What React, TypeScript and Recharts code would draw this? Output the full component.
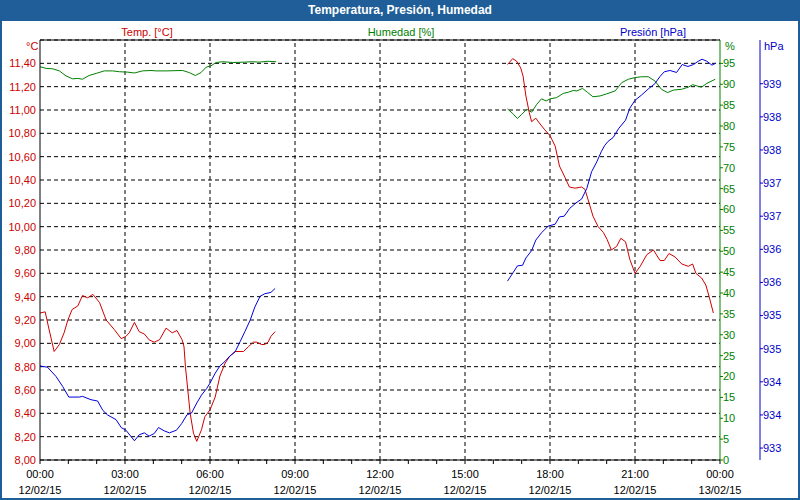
import React from 'react';
import { LineChart, Line, XAxis, YAxis, CartesianGrid, ReferenceLine } from 'recharts';

// minutes since 12/02/15 00:00, value (null = no data)
const temperature: [number, number | null][] = [
  [0, 9.26], [11, 9.27], [18, 9.14], [30, 8.93], [41, 8.99], [51, 9.09], [59, 9.2], [68, 9.29],
  [80, 9.32], [90, 9.41], [101, 9.39], [112, 9.42], [126, 9.35], [140, 9.2], [157, 9.12], [172, 9.04],
  [182, 9.06], [189, 9.09], [200, 9.18], [210, 9.1], [221, 9.08], [231, 9.03], [242, 9.01], [253, 9.03],
  [267, 9.13], [280, 9.09], [290, 9.11], [301, 9.03], [305, 8.97], [308, 8.8], [313, 8.6], [318, 8.4],
  [325, 8.23], [332, 8.16], [342, 8.26], [349, 8.37], [360, 8.43], [371, 8.54], [381, 8.72], [392, 8.83],
  [402, 8.89], [413, 8.93], [431, 8.93], [441, 8.97], [452, 9.01], [459, 9.01], [469, 8.99], [476, 8.99],
  [483, 9.01], [489, 9.06], [498, 9.1],
  [700, null],
  [990, 11.39], [1001, 11.44], [1009, 11.42], [1018, 11.36], [1023, 11.29], [1029, 11.12], [1036, 10.98],
  [1041, 10.9], [1050, 10.93], [1059, 10.88], [1069, 10.83], [1080, 10.78], [1091, 10.69], [1100, 10.52],
  [1112, 10.42], [1121, 10.34], [1133, 10.33], [1147, 10.34], [1154, 10.32], [1163, 10.2], [1171, 10.09],
  [1182, 10.0], [1193, 9.95], [1201, 9.89], [1210, 9.8], [1221, 9.83], [1230, 9.9], [1240, 9.87],
  [1249, 9.72], [1260, 9.6], [1271, 9.66], [1285, 9.76], [1299, 9.8], [1313, 9.71], [1322, 9.71],
  [1332, 9.77], [1345, 9.74], [1359, 9.68], [1373, 9.66], [1382, 9.68], [1389, 9.6], [1401, 9.56],
  [1410, 9.5], [1417, 9.4], [1426, 9.26],
];

const humidity: [number, number | null][] = [
  [0, 94.2], [13, 93.8], [27, 93.7], [41, 93.2], [55, 92.0], [69, 91.3], [80, 91.4], [90, 91.2],
  [104, 92.1], [119, 92.6], [136, 93.2], [154, 93.2], [168, 93.0], [186, 92.9], [200, 92.7], [217, 93.2],
  [235, 93.3], [246, 93.2], [267, 93.2], [302, 93.3], [316, 92.8], [329, 92.1], [341, 92.8], [352, 94.1],
  [362, 94.4], [373, 95.2], [387, 95.4], [408, 95.2], [433, 95.3], [450, 95.4], [464, 95.3], [482, 95.5],
  [500, 95.4],
  [700, null],
  [990, 84.1], [1001, 83.0], [1011, 81.8], [1020, 82.8], [1031, 84.0], [1041, 83.3], [1052, 85.2],
  [1062, 86.5], [1072, 86.0], [1080, 86.5], [1094, 86.8], [1108, 87.8], [1119, 88.1], [1129, 88.5],
  [1137, 88.4], [1149, 89.0], [1159, 88.1], [1171, 87.0], [1186, 87.2], [1200, 87.7], [1218, 88.4],
  [1232, 90.4], [1246, 91.2], [1260, 91.6], [1274, 91.8], [1288, 91.8], [1302, 90.8], [1316, 88.8],
  [1329, 88.0], [1341, 88.6], [1359, 88.8], [1373, 89.3], [1382, 89.9], [1391, 89.6], [1401, 89.3],
  [1412, 90.2], [1430, 91.2],
];

const pressure: [number, number | null][] = [
  [0, 934.24], [16, 934.22], [34, 934.08], [48, 933.93], [61, 933.77], [83, 933.77], [90, 933.78],
  [108, 933.73], [122, 933.71], [133, 933.57], [143, 933.5], [161, 933.43], [172, 933.31], [182, 933.27],
  [200, 933.11], [210, 933.2], [221, 933.23], [231, 933.18], [242, 933.22], [251, 933.31], [263, 933.26],
  [274, 933.23], [289, 933.27], [300, 933.37], [311, 933.5], [321, 933.53], [332, 933.68], [342, 933.8],
  [353, 933.9], [360, 933.98], [371, 934.13], [381, 934.24], [392, 934.31], [402, 934.39], [413, 934.45],
  [424, 934.61], [434, 934.76], [445, 934.93], [455, 935.13], [466, 935.29], [476, 935.33], [489, 935.35],
  [498, 935.41],
  [700, null],
  [990, 935.52], [1002, 935.65], [1011, 935.75], [1022, 935.76], [1029, 935.87], [1041, 935.98],
  [1050, 936.14], [1062, 936.25], [1076, 936.35], [1091, 936.38], [1100, 936.49], [1110, 936.5],
  [1122, 936.62], [1135, 936.7], [1147, 936.76], [1158, 936.92], [1168, 937.17], [1179, 937.32],
  [1189, 937.48], [1196, 937.57], [1203, 937.63], [1214, 937.69], [1225, 937.82], [1240, 937.95],
  [1249, 938.13], [1260, 938.25], [1274, 938.33], [1288, 938.42], [1302, 938.5], [1313, 938.61],
  [1322, 938.68], [1334, 938.7], [1348, 938.67], [1360, 938.79], [1372, 938.76], [1384, 938.79],
  [1394, 938.84], [1402, 938.87], [1412, 938.84], [1423, 938.78], [1431, 938.81],
];

const tempTicks = [8.0, 8.2, 8.4, 8.6, 8.8, 9.0, 9.2, 9.4, 9.6, 9.8, 10.0, 10.2, 10.4, 10.6, 10.8, 11.0, 11.2, 11.4];
const humidityTicks = [0, 5, 10, 15, 20, 25, 30, 35, 40, 45, 50, 55, 60, 65, 70, 75, 80, 85, 90, 95];
const pressureTicks = [933, 933.5, 934, 934.5, 935, 935.5, 936, 936.5, 937, 937.5, 938, 938.5];
const hourTicks = [0, 60, 120, 180, 240, 300, 360, 420, 480, 540, 600, 660, 720, 780, 840, 900, 960, 1020, 1080, 1140, 1200, 1260, 1320, 1380, 1440];
const majorTicks = [0, 180, 360, 540, 720, 900, 1080, 1260, 1440];
const timeLabels = ['00:00', '03:00', '06:00', '09:00', '12:00', '15:00', '18:00', '21:00', '00:00'];
const dateLabels = ['12/02/15', '12/02/15', '12/02/15', '12/02/15', '12/02/15', '12/02/15', '12/02/15', '12/02/15', '13/02/15'];

const FONT = '"Liberation Sans", Arial, sans-serif';
const RED = '#cc0000';
const GREEN = '#008000';
const BLUE = '#0000cc';
const FRAME = '#1f5e98';

const toPoints = (pairs: [number, number | null][]) => pairs.map(([t, v]) => ({ t, v }));

function TimeTick(props: any) {
  const { x, y, payload } = props;
  const i = majorTicks.indexOf(payload.value);
  if (i < 0) return <g />;
  return (
    <text x={x} y={y} textAnchor="middle" fill="#000" fontSize={11} fontFamily={FONT}>
      <tspan x={x} dy={12}>{timeLabels[i]}</tspan>
      <tspan x={x} dy={16}>{dateLabels[i]}</tspan>
    </text>
  );
}

const label = (text: string, color: string, x: number, y: number, align = 'center') => (
  <div
    style={{
      position: 'absolute',
      left: x,
      top: y,
      transform: align === 'center' ? 'translate(-50%, -50%)' : 'translate(0, -50%)',
      color,
      fontFamily: FONT,
      fontSize: 11,
      lineHeight: 1,
      whiteSpace: 'nowrap',
    }}
  >
    {text}
  </div>
);

export default function App() {
  return (
    <div style={{ position: 'absolute', left: 0, top: 0, width: 800, height: 500, background: '#fff', overflow: 'hidden' }}>
      <LineChart width={800} height={500} margin={{ top: 40, right: 0, bottom: 0, left: 8 }}>
        <CartesianGrid yAxisId="temp" vertical={false} stroke="#000" strokeDasharray="4 3" />
        <XAxis
          dataKey="t"
          type="number"
          domain={[0, 1440]}
          ticks={hourTicks}
          interval={0}
          height={40}
          tickSize={4}
          tickMargin={2}
          stroke="#000"
          tickLine={{ stroke: '#000' }}
          axisLine={{ stroke: '#000' }}
          tick={<TimeTick />}
          allowDataOverflow
        />
        <YAxis
          yAxisId="temp"
          orientation="left"
          width={32}
          domain={[8, 11.6]}
          ticks={tempTicks}
          interval={0}
          tickLine={false}
          tickSize={4}
          tickMargin={0}
          axisLine={{ stroke: '#000' }}
          tick={{ fill: RED, fontSize: 11, fontFamily: FONT }}
          tickFormatter={(v: number) => v.toFixed(2).replace('.', ',')}
          allowDataOverflow
        />
        <YAxis
          yAxisId="hum"
          orientation="right"
          width={40}
          domain={[0, 100.6]}
          ticks={humidityTicks}
          interval={0}
          tickSize={3}
          tickMargin={0}
          axisLine={{ stroke: GREEN }}
          tickLine={{ stroke: GREEN }}
          tick={{ fill: GREEN, fontSize: 11, fontFamily: FONT, textAnchor: 'start' }}
          allowDataOverflow
        />
        <YAxis
          yAxisId="pres"
          orientation="right"
          width={40}
          domain={[932.82, 939.16]}
          ticks={pressureTicks}
          interval={0}
          tickSize={3}
          tickMargin={0}
          axisLine={{ stroke: BLUE }}
          tickLine={{ stroke: BLUE }}
          tick={{ fill: BLUE, fontSize: 11, fontFamily: FONT, textAnchor: 'start' }}
          tickFormatter={(v: number) => v.toFixed(0)}
          allowDataOverflow
        />
        {majorTicks.slice(1, -1).map((t) => (
          <ReferenceLine key={t} x={t} yAxisId="temp" stroke="#000" strokeDasharray="4 3" />
        ))}
        <ReferenceLine y={11.6} yAxisId="temp" stroke="#000" />
        <Line
          yAxisId="hum"
          data={toPoints(humidity)}
          dataKey="v"
          type="linear"
          stroke={GREEN}
          strokeWidth={1}
          dot={false}
          isAnimationActive={false}
        />
        <Line
          yAxisId="temp"
          data={toPoints(temperature)}
          dataKey="v"
          type="linear"
          stroke="#d00000"
          strokeWidth={1}
          dot={false}
          isAnimationActive={false}
        />
        <Line
          yAxisId="pres"
          data={toPoints(pressure)}
          dataKey="v"
          type="linear"
          stroke="#0000dd"
          strokeWidth={1}
          dot={false}
          isAnimationActive={false}
        />
      </LineChart>

      <div
        style={{
          position: 'absolute',
          left: 0,
          top: 0,
          width: 800,
          height: 21,
          background: FRAME,
          color: '#fff',
          fontFamily: FONT,
          fontWeight: 'bold',
          fontSize: 12,
          lineHeight: '21px',
          textAlign: 'center',
        }}
      >
        Temperatura, Presión, Humedad
      </div>
      <div
        style={{
          position: 'absolute',
          left: 0,
          top: 0,
          width: 800,
          height: 500,
          boxSizing: 'border-box',
          border: `2px solid ${FRAME}`,
          pointerEvents: 'none',
        }}
      />

      {label('Temp. [°C]', RED, 147, 32)}
      {label('Humedad [%]', GREEN, 401, 32)}
      {label('Presión [hPa]', BLUE, 653, 32)}
      {label('°C', RED, 26, 46, 'start')}
      {label('%', GREEN, 725, 46, 'start')}
      {label('hPa', BLUE, 764, 46, 'start')}
    </div>
  );
}
